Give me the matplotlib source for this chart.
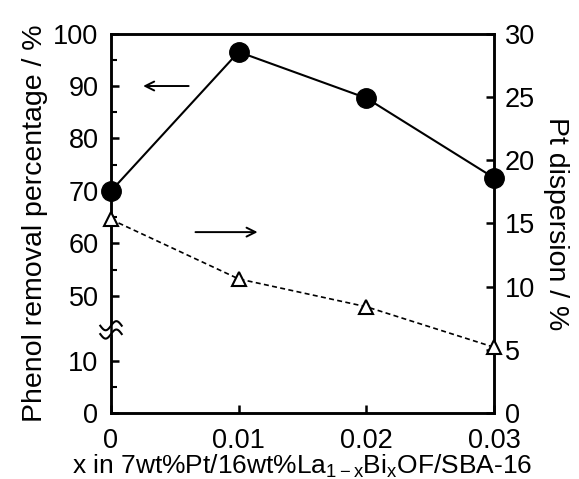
import numpy as np
import matplotlib
matplotlib.use("Agg")
import matplotlib.pyplot as plt
from matplotlib.ticker import FixedLocator

plt.rcParams["font.family"] = ["Liberation Sans", "DejaVu Sans"]
plt.rcParams["mathtext.fontset"] = "custom"
plt.rcParams["mathtext.rm"] = "Liberation Sans"
plt.rcParams["mathtext.it"] = "Liberation Sans"

# data
x_ratio = [0, 0.01, 0.02, 0.03]
x_labels = ["0", "0.01", "0.02", "0.03"]
removal = [70.0, 96.5, 87.7, 72.5]       # Phenol removal percentage / %
dispersion = [15.3, 10.6, 8.4, 5.2]      # Pt dispersion / %
left_ticks = [0, 10, 50, 60, 70, 80, 90, 100]
left_minor = [5, 55, 65, 75, 85, 95]
right_ticks = [0, 5, 10, 15, 20, 25, 30]

# broken left axis: 0-10 and 50-100 shown, 10-50 squeezed
GAP = 12.3


def fwd(v):
    v = np.asarray(v, dtype=float)
    return np.where(v <= 10, v,
                    np.where(v >= 50, v - 40 + GAP, 10 + (v - 10) * GAP / 40))


def inv(t):
    t = np.asarray(t, dtype=float)
    return np.where(t <= 10, t,
                    np.where(t >= 10 + GAP, t + 40 - GAP, 10 + (t - 10) * 40 / GAP))


fig = plt.figure(figsize=(5.79, 4.79), dpi=100)
ax = fig.add_axes([0.1917, 0.1378, 0.6615, 0.7922])
ax2 = ax.twinx()

ax.set_yscale("function", functions=(fwd, inv))
ax.plot(x_ratio, removal, "-o", color="black", lw=1.5, ms=14, clip_on=False, zorder=5)
ax2.plot(x_ratio, dispersion, "^", color="black", mfc="white", mew=1.5, ms=10,
         linestyle=(0, (3, 2)), lw=1.2, clip_on=False, zorder=5)

ax.set_xlim(0, 0.03)
ax.set_ylim(0, 100)
ax2.set_ylim(0, 30)

ax.set_xticks(x_ratio)
ax.set_xticklabels(x_labels)
ax.yaxis.set_major_locator(FixedLocator(left_ticks))
ax.yaxis.set_minor_locator(FixedLocator(left_minor))
ax.yaxis.set_major_formatter(plt.FixedFormatter([str(t) for t in left_ticks]))
ax.yaxis.set_minor_formatter(plt.NullFormatter())
ax2.set_yticks(right_ticks)

for a in (ax, ax2):
    for s in a.spines.values():
        s.set_linewidth(1.8)
ax.tick_params(axis="both", direction="in", labelsize=19.5, width=1.8, length=6, pad=9)
ax.tick_params(axis="x", pad=11)
ax.tick_params(axis="y", which="minor", direction="in", width=1.5, length=4)
ax2.tick_params(axis="y", direction="in", labelsize=19.5, width=1.8, length=6, pad=8)

ax.set_ylabel("Phenol removal percentage / %", fontsize=20.5, labelpad=4)
ax2.set_ylabel("Pt dispersion / %", fontsize=20.5, rotation=270, labelpad=24)
ax.set_xlabel(r"x in 7wt%Pt/16wt%La$_{\mathrm{1-x}}$Bi$_{\mathrm{x}}$OF/SBA-16",
              fontsize=19, labelpad=-1)

# arrows pointing to each axis
ax.annotate("", xy=(0.0023, 90), xytext=(0.0063, 90),
            arrowprops=dict(arrowstyle="->", color="black", lw=1.4,
                            mutation_scale=16))
ax2.annotate("", xy=(0.0117, 14.3), xytext=(0.0064, 14.3),
             arrowprops=dict(arrowstyle="->", color="black", lw=1.4,
                             mutation_scale=16))

# break mark on the left spine
yb = 0.219
t = np.linspace(-1, 1, 40)
wx = t * 0.028
wy = 0.012 * np.sin(t * np.pi)
ax.fill_between(wx, yb - 0.011 + wy, yb + 0.011 + wy, color="white",
                transform=ax.transAxes, clip_on=False, zorder=6)
for off in (-0.011, 0.011):
    ax.plot(wx, yb + off + wy, color="black", lw=1.5, transform=ax.transAxes,
            clip_on=False, zorder=7)

fig.savefig("out.png", dpi=100)
